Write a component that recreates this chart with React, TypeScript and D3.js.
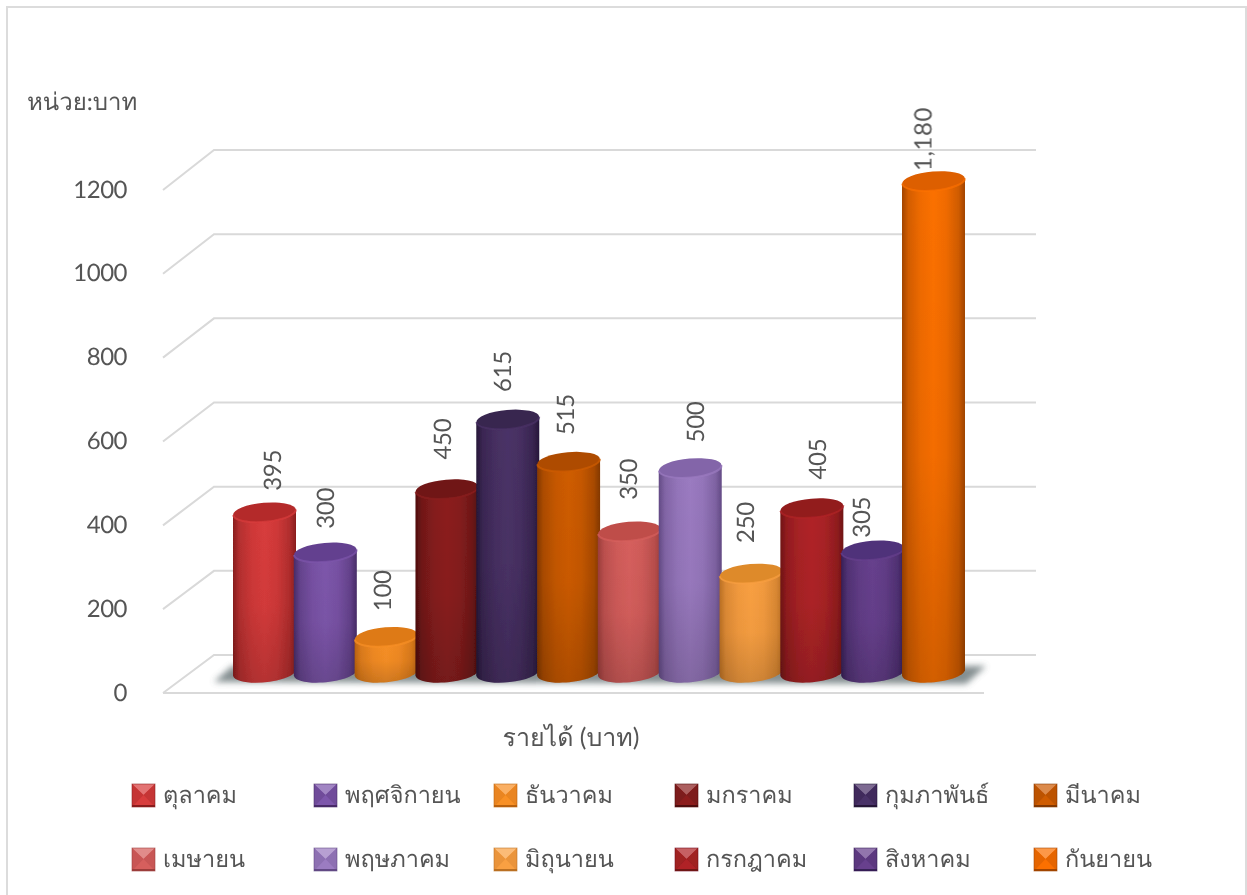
import React from "react";
import * as d3 from "d3";

const months = ["ตุลาคม","พฤศจิกายน","ธันวาคม","มกราคม","กุมภาพันธ์","มีนาคม","เมษายน","พฤษภาคม","มิถุนายน","กรกฎาคม","สิงหาคม","กันยายน"];
const incomes = [395,300,100,450,615,515,350,500,250,405,305,1180];
const valueLabels = ["395","300","100","450","615","515","350","500","250","405","305","1,180"];
const yTicks = [0,200,400,600,800,1000,1200];
const centerColors = ["#d83c3c","#7d56ab","#f89026","#8c1f1f","#4a3267","#cf5c05","#d65f5d","#9b7bc1","#f9a042","#b02427","#67408d","#fb7000"];
const edgeColors = ["#8a1e1e","#482c68","#ba620e","#500e0e","#261739","#833803","#9c3d3b","#634a85","#bb7024","#701315","#372056","#a24500"];
const topColors = ["#b42b2b","#63408f","#de7a16","#701616","#38254f","#ae4c03","#bf4d4a","#8365a9","#de8a2a","#921b1e","#50307a","#dd5e00"];
const legendColumns = [132,314,494,675,854,1034];
const labelOffsetX = [7.5,0,-4,-4,-5,-3,-1,5,-6,6,-11,-11];
const labelOffsetY = [42,44,46,50,48,47,52,46,51,49,33,42];

const W = 1247, H = 895;
const x = d3.scaleLinear().domain([0,11]).range([264.5,933.5]);
const yTop = d3.scaleLinear().domain([0,1200]).range([679,172.6]);
const yBack = d3.scaleLinear().domain([0,1200]).range([655,150]);
const yFront = d3.scaleLinear().domain([0,1200]).range([693,190]);
const rx = 31.5, ry = 9.5, baseY = 673, tilt = 2.7, rot = -5;
const textColor = "#555555";
const font = "Lato, 'Noto Sans', sans-serif";

const cylinderPath = (cx: number, top: number) => {
  const path = d3.path();
  path.moveTo(cx - rx, top + tilt);
  path.lineTo(cx - rx, baseY + tilt);
  path.bezierCurveTo(cx - rx + 4, baseY + ry * 1.3 + tilt, cx + rx - 4, baseY + ry * 1.3 - tilt, cx + rx, baseY - tilt);
  path.lineTo(cx + rx, top - tilt);
  path.closePath();
  return path.toString();
};

export default function App() {
  return (
    <svg width={W} height={H} viewBox={`0 0 ${W} ${H}`} textRendering="geometricPrecision" style={{position:"absolute",left:0,top:0,background:"#fff"}}>
      <defs>
        <filter id="soft" x="-5%" y="-5%" width="110%" height="110%"><feGaussianBlur stdDeviation="0.6"/></filter>
        <filter id="shadowBlur" x="-5%" y="-50%" width="110%" height="200%"><feGaussianBlur stdDeviation="3"/></filter>
        <linearGradient id="fall" x1="0" x2="0" y1="0" y2="1">
          <stop offset="0" stopColor="#000" stopOpacity={0}/>
          <stop offset="0.55" stopColor="#000" stopOpacity={0.03}/>
          <stop offset="1" stopColor="#000" stopOpacity={0.16}/>
        </linearGradient>
        {months.map((_, i) => {
          const mix = d3.interpolateRgb(edgeColors[i], centerColors[i]);
          return (
            <linearGradient key={i} id={`body${i}`} x1="0" x2="1" y1="0" y2="0">
              <stop offset="0" stopColor={edgeColors[i]}/>
              <stop offset="0.1" stopColor={mix(0.55)}/>
              <stop offset="0.3" stopColor={mix(0.88)}/>
              <stop offset="0.5" stopColor={centerColors[i]}/>
              <stop offset="0.7" stopColor={mix(0.88)}/>
              <stop offset="0.9" stopColor={mix(0.5)}/>
              <stop offset="1" stopColor={edgeColors[i]}/>
            </linearGradient>
          );
        })}
      </defs>
      <rect x={7} y={7} width={1239} height={900} fill="#fff" stroke="#dcdcdc" strokeWidth={2}/>
      <g filter="url(#soft)">
        {yTicks.map(t => (
          <path key={t} d={`M163,${yFront(t)}L214,${yBack(t)}H1036`} fill="none" stroke="#d9d9d9" strokeWidth={2}/>
        ))}
        <path d={`M163,${yFront(0)}H984`} fill="none" stroke="#d9d9d9" strokeWidth={2}/>
        <path d="M214,682 L232,666 H986 L966,684 Z" fill="#6f7c7e" opacity={0.85} filter="url(#shadowBlur)"/>
        {incomes.map((v, i) => {
          const cx = x(i), top = yTop(v);
          const d = cylinderPath(cx, top);
          return (
            <g key={months[i]}>
              <path d={d} fill={`url(#body${i})`}/>
              <path d={d} fill="url(#fall)"/>
              <g transform={`translate(${cx},${top}) rotate(${rot})`}>
                <ellipse rx={rx} ry={ry} fill={topColors[i]}/>
                <path d={`M${-rx},0A${rx},${ry} 0 0 0 ${rx},0`} fill="none" stroke={centerColors[i]} strokeWidth={2} opacity={0.7}/>
              </g>
            </g>
          );
        })}
        {incomes.map((v, i) => {
          const lx = x(i) + labelOffsetX[i], ly = yTop(v) - labelOffsetY[i];
          return (
            <text key={months[i]} transform={`translate(${lx},${ly}) rotate(-90)`} textAnchor="middle" dominantBaseline="central" fontFamily={font} fontSize={24} letterSpacing={i === 11 ? 0.6 : -0.3} fill={textColor}>{valueLabels[i]}</text>
          );
        })}
        {yTicks.map(t => (
          <text key={t} x={127} y={yFront(t) - 1} textAnchor="end" dominantBaseline="central" fontFamily={font} fontSize={24} letterSpacing={-0.5} fill={textColor}>{t}</text>
        ))}
        <text x={27} y={101} dominantBaseline="central" fontFamily={font} fontSize={24} fill={textColor}>หน่วย:บาท</text>
        <text x={571} y={737} textAnchor="middle" dominantBaseline="central" fontFamily={font} fontSize={25} fill={textColor}>รายได้ (บาท)</text>
        {months.map((m, i) => {
          const col = i % 6, row = Math.floor(i / 6);
          const sx = legendColumns[col], sy = row === 0 ? 784 : 848, s = 23;
          const c = centerColors[i], dark = edgeColors[i];
          const light = d3.interpolateRgb(c, "#ffffff")(0.28);
          const mx = sx + s / 2, my = sy + s * 0.48;
          return (
            <g key={m}>
              <rect x={sx} y={sy} width={s} height={s} fill={c}/>
              <path d={`M${sx},${sy}H${sx+s}L${mx},${my}Z`} fill={light}/>
              <path d={`M${sx},${sy}L${mx},${my}L${sx},${sy+s}Z`} fill={d3.interpolateRgb(c, dark)(0.25)}/>
              <path d={`M${sx+s},${sy}L${mx},${my}L${sx+s},${sy+s}Z`} fill={d3.interpolateRgb(c, dark)(0.25)}/>
              <path d={`M${sx},${sy+s}H${sx+s}V${sy+s-2}H${sx}Z`} fill={dark}/>
              <rect x={sx} y={sy} width={s} height={s} fill="none" stroke={dark} strokeWidth={0.8} opacity={0.7}/>
              <text x={sx+31} y={sy+s/2-1} dominantBaseline="central" fontFamily={font} fontSize={23.5} fill={textColor}>{m}</text>
            </g>
          );
        })}
      </g>
    </svg>
  );
}
